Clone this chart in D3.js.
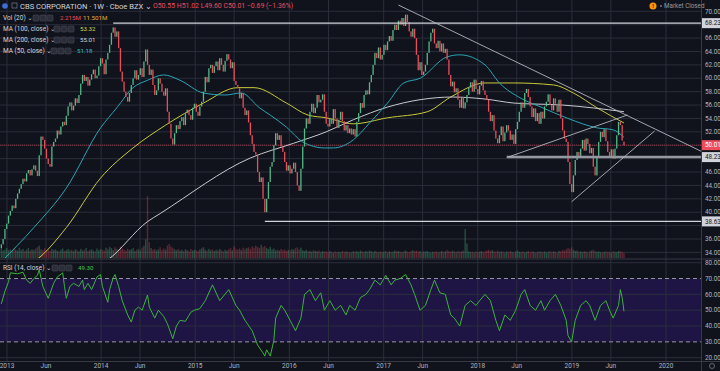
<!DOCTYPE html>
<html>
<head>
<meta charset="utf-8">
<script src="https://cdnjs.cloudflare.com/ajax/libs/d3/7.8.5/d3.min.js"></script>
<style>
  html, body { margin: 0; padding: 0; background: #10131c; }
  svg { display: block; font-family: Roboto, "DejaVu Sans", sans-serif; }
</style>
</head>
<body>
<svg id="chart" width="720" height="371"></svg>
<script>
// weekly candles, first week starts 2012-12-10
const firstWeek = new Date(2012, 11, 10);
const firstOpen = 34.6;
const lastOpen = 50.55;

const closes = [
  35.2, 36.0, 37.5, 38.3,
  39.5, 40.2, 41.0, 40.6, 42.0, 42.8, 43.5,
  44.2, 45.0, 44.6, 45.8, 46.3, 45.5, 46.4, 47.0, 46.2, 45.4,
  48.5, 51.3, 50.8,
  49.5, 48.0, 47.2, 46.8,
  49.8, 50.5, 51.0, 52.2, 51.6, 52.8, 53.5, 53.0, 54.4,
  55.8, 56.4, 55.2, 55.9, 57.0, 56.3, 57.5,
  59.2, 60.5, 59.6, 60.2, 58.9, 59.8, 60.6, 61.3, 60.0, 60.4,
  61.8, 63.0, 62.2, 60.6, 62.8, 63.8,
  65.0, 66.8, 67.6, 66.2, 67.0,
  64.5, 61.0, 59.5, 58.0, 57.2, 56.5, 57.8, 59.0,
  60.0, 61.2, 59.8, 60.5, 61.5, 60.2, 62.5, 64.3,
  62.0, 60.5, 61.3, 59.0, 57.5, 58.2, 60.0, 59.2, 58.0, 57.4, 58.5,
  55.0, 53.2, 51.0, 50.1,
  51.8, 53.0, 52.4, 53.6, 54.2, 53.0, 54.8, 55.3, 54.5, 53.8, 55.6, 56.2, 55.0, 54.4, 55.8, 56.5,
  58.0, 60.2, 59.4, 61.5, 62.0,
  60.8, 61.8, 62.5, 61.2, 63.0, 62.0, 61.0, 62.6, 63.6, 62.8, 61.5, 62.4, 59.6, 59.0,
  58.5, 57.0, 57.8, 55.6, 54.5, 55.2, 53.4,
  51.5, 50.2, 49.0, 48.6,
  46.0, 44.5, 45.2, 42.0, 40.0,
  42.0, 44.5, 46.8, 47.5, 50.0, 51.8, 50.8, 51.5, 49.8,
  49.0, 47.5, 46.2, 47.0, 45.8, 46.5, 47.4, 46.0, 44.0, 43.2,
  46.5, 49.8, 52.5, 54.0,
  53.2, 55.0, 56.2, 54.8, 55.6, 57.5, 56.4,
  56.8, 57.6, 55.0, 53.2, 52.8, 54.0,
  53.2, 55.4, 54.0, 52.6, 53.8, 55.0, 53.6, 52.2, 53.0, 51.8, 52.5, 51.6, 52.4, 51.3,
  53.5, 54.8, 56.3, 55.6, 57.5, 58.2, 57.6, 59.4, 60.5,
  62.0, 63.8, 63.0, 64.6, 62.8, 63.5, 65.0, 64.2, 65.5, 66.3, 65.6, 67.2, 68.0,
  67.2, 68.6, 68.0, 69.0, 67.8, 69.5, 68.4,
  67.0, 66.2, 67.4, 66.0,
  63.5, 61.2, 62.4, 60.5, 61.0, 62.0,
  63.8, 65.5, 66.8, 67.4, 65.2,
  64.5, 65.6, 64.0, 65.2, 63.8, 64.4, 62.8,
  60.5, 58.8, 59.5, 57.9, 58.5,
  56.8, 55.6, 57.2, 55.5, 56.4,
  57.5, 58.6, 59.4, 58.0, 59.8, 58.4, 57.6, 58.9, 59.6, 58.2,
  57.5, 56.8, 55.0, 53.6, 54.5, 52.2, 51.0, 50.3,
  51.5, 52.8, 50.6, 51.9, 53.0, 52.2, 50.8, 51.6, 50.2, 52.4,
  53.5, 55.0, 56.4, 55.6, 57.8, 58.4, 57.2,
  55.8, 54.2, 55.5, 53.6, 54.8, 53.2, 55.0, 54.0, 55.8,
  56.5, 57.6, 56.0, 55.2, 57.0, 56.2, 55.0, 56.8,
  54.0, 52.2, 51.0, 50.5,
  47.5, 44.2, 43.0,
  45.5, 47.8, 49.0, 48.2,
  49.5, 50.8, 49.2, 51.0, 50.2, 48.8, 49.6,
  46.8, 45.5,
  48.4, 50.5, 52.0, 51.2, 52.4, 50.6,
  49.0, 48.2, 49.4, 48.0, 49.5,
  51.5, 53.5, 53.0,
  50.70, 50.01
];

// weekly volume, millions
const volumes = [
  22,18,20,24,19,21,17,23,20,18,25,19,22,17,20,24,18,21,19,23,
  26,30,21,19,24,18,20,17,22,19,21,18,16,20,23,17,19,22,18,20,
  17,21,19,16,22,18,20,24,17,19,21,18,16,23,19,22,20,18,25,21,
  27,24,20,26,22,19,28,23,20,18,22,19,21,24,17,20,22,18,25,30,
  45,150,38,24,20,22,18,21,26,19,23,20,30,34,28,25,21,19,22,18,
  20,17,21,19,16,22,18,20,19,17,21,23,26,20,18,22,19,21,17,20,
  18,22,19,16,20,18,21,24,19,28,22,20,23,19,25,21,24,26,22,28,
  25,30,27,24,32,26,29,24,22,27,21,23,19,20,18,22,19,21,17,20,
  18,22,20,24,26,21,25,19,17,20,16,18,15,19,17,16,18,14,17,15,
  16,14,17,15,13,16,14,15,13,17,14,16,15,13,14,16,15,17,14,18,
  16,14,17,15,18,16,14,17,15,13,16,14,15,17,13,16,14,15,18,16,
  17,15,14,16,18,15,14,17,19,16,18,15,17,14,16,15,17,14,13,15,
  14,16,13,15,17,14,16,19,17,15,18,16,14,17,15,16,18,70,35,16,
  14,15,13,16,14,15,17,14,16,18,20,17,19,16,15,18,14,16,15,13,
  16,14,17,15,13,16,18,15,14,16,13,15,17,14,16,15,13,14,16,15,
  14,16,13,15,17,14,16,15,13,17,16,19,18,21,24,22,26,20,17,18,
  15,16,14,17,15,13,16,18,20,17,15,16,14,13,15,16,14,15,13,16,
  15,14,17,16,15,12
];

// moving averages: [week index, value]
const ma50Pts = [[0,32.6],[18,37.7],[36,43.6],[55,52.6],[64,55.6],[73,58.6],[81,59.7],[90,60.5],[99,59.7],
  [112,57.8],[124,57.5],[133,57.8],[143,55.6],[149,54.5],[158,52.7],[167,50.5],[179,49.6],[184,49.6],
  [195,50.8],[204,53.3],[214,56.3],[223,59.3],[232,60.0],[247,63.2],[254,63.5],[268,62.0],[276,59.3],
  [288,57.0],[299,55.7],[314,54.0],[330,52.6],[339,52.3],[345,51.18]];
const ma100Pts = [[10,31.5],[20,33.0],[36,37.7],[55,45.1],[73,49.6],[91,53.0],[112,56.3],[131,58.6],
  [140,58.6],[158,56.3],[170,54.5],[180,54.1],[195,53.2],[214,54.1],[236,55.0],[249,57.2],[268,59.3],
  [284,59.3],[306,59.0],[317,57.8],[330,55.6],[345,53.32]];
const ma200Pts = [[50,31.5],[59,32.9],[81,38.6],[88,39.8],[138,48.1],[162,50.3],[180,52.0],[195,53.8],
  [214,55.7],[232,56.8],[250,57.2],[268,56.9],[284,56.3],[311,56.0],[345,55.01]];

// RSI (14): [week index, value]
const rsiPts = [[0,54],[2,62],[4,68],[5,73.6],[9,73],[12,74],[14,69],[16,67],[18,70],[20,72],[21,75.6],
  [23,65],[26,57.5],[29,67],[31,71],[34,73.6],[35,65],[36,57.5],[38,65],[40,67],[43,65],[45,69],[46,63],
  [48,67],[50,63],[53,71],[55,72.5],[56,65],[59,55],[60,63],[62,70.5],[63,72.5],[65,65],[67,56],[70,47],
  [72,42.5],[74,50],[76,52],[78,50],[81,59.6],[82,52],[85,45],[87,50],[90,46],[92,41.5],[95,32],[97,40],
  [99,43.6],[102,43],[105,48.7],[107,50],[110,51],[113,56],[117,66],[121,56],[126,63],[130,53],[132,50],
  [135,43.6],[139,37],[142,28],[145,23],[146,21],[147,25],[149,21],[151,31],[152,45],[155,53],[157,50],
  [160,43.6],[163,37],[166,45],[168,60],[171,63],[174,56],[177,61],[179,50],[182,56],[185,50],[188,53],
  [191,47],[193,53],[196,50],[199,58],[202,60],[204,63],[207,69],[210,66],[213,72],[216,66],[218,69],
  [221,70],[224,72.5],[227,66],[229,60],[232,50],[235,53],[238,63],[240,69],[243,61],[246,60],[249,47],
  [251,45],[254,40],[257,53],[260,56],[263,53],[265,56],[268,60],[271,56],[274,43.6],[276,37],[279,47],
  [282,43.6],[285,50],[288,60],[290,63],[293,53],[296,50],[299,56],[301,50],[304,56],[307,60],[310,53],
  [313,43.6],[314,34],[316,30],[318,43.6],[321,53],[324,56],[326,53],[329,43.6],[332,53],[335,56],
  [337,50],[339,45],[342,53],[343,63],[344,58],[345,49.3]];

const priceTicks = [34,36,38,40,42,44,46,48,50,52,54,56,58,60,62,64,66,68,70];
const rsiTicks = [20,30,40,50,60,70,80];
const timeTicks = [
  ['2013-01-01','2013'],['2013-06-01','Jun'],['2014-01-01','2014'],['2014-06-01','Jun'],
  ['2015-01-01','2015'],['2015-06-01','Jun'],['2016-01-01','2016'],['2016-06-01','Jun'],
  ['2017-01-01','2017'],['2017-06-01','Jun'],['2018-01-01','2018'],['2018-06-01','Jun'],
  ['2019-01-01','2019'],['2019-06-01','Jun'],['2020-01-01','2020']
];

// horizontal levels: price, starting week index, style
const levels = [
  { price: 68.23, from: 62, color: '#d1d4dc', width: 1.2 },
  { price: 38.63, from: 146, color: '#d1d4dc', width: 1.2 },
  { price: 48.23, from: 280, color: '#9598a1', width: 2.5 }
];
// trend lines: [[week, price], [week, price]]
const trendLines = [
  [[220, 70.94], [388, 49.07]],
  [[281, 48.25], [347, 54.52]],
  [[316, 41.57], [362, 52.13]]
];

const bg = '#10131c';
const gridColor = '#2a2e3a';
const textColor = '#b2b5be';
const upColor = '#53b987';
const downColor = '#eb4d5c';

const plotRight = 701;
const priceBottom = 258;
const rsiTop = 260;
const rsiBottom = 361;

const svg = d3.select('#chart');
svg.append('rect').attr('width', 720).attr('height', 371).attr('fill', bg);

const x = d3.scaleTime()
  .domain([new Date(2013, 0, 1), new Date(2020, 0, 1)])
  .range([7, 666]);
const weekX = i => x(d3.timeDay.offset(firstWeek, 7 * i));
const y = d3.scaleLinear().domain([34, 70]).range([252.4, 11.3]);
const yr = d3.scaleLinear().domain([20, 80]).range([357.7, 262.7]);
const vol = d3.scaleLinear().domain([0, d3.max(volumes)]).range([0, 62]);

const defs = svg.append('defs');
defs.append('clipPath').attr('id', 'clipPrice')
  .append('rect').attr('x', 0).attr('y', 0).attr('width', plotRight).attr('height', priceBottom);
defs.append('clipPath').attr('id', 'clipRsi')
  .append('rect').attr('x', 0).attr('y', rsiTop).attr('width', plotRight).attr('height', rsiBottom - rsiTop);

// rsi band
svg.append('rect')
  .attr('x', 0).attr('width', plotRight)
  .attr('y', yr(70)).attr('height', yr(30) - yr(70))
  .attr('fill', '#1e1544');

// grid
const tickData = timeTicks.map(d => ({ date: d3.timeParse('%Y-%m-%d')(d[0]), label: d[1] }));
svg.append('g').selectAll('line').data(tickData).enter().append('line')
  .attr('x1', d => x(d.date)).attr('x2', d => x(d.date))
  .attr('y1', 0).attr('y2', rsiBottom)
  .attr('stroke', gridColor).attr('stroke-width', 1);
svg.append('g').selectAll('line').data(priceTicks).enter().append('line')
  .attr('x1', 0).attr('x2', plotRight)
  .attr('y1', d => y(d)).attr('y2', d => y(d))
  .attr('stroke', gridColor);
svg.append('g').selectAll('line').data(rsiTicks.filter(d => d !== 70 && d !== 30)).enter().append('line')
  .attr('x1', 0).attr('x2', plotRight)
  .attr('y1', d => yr(d)).attr('y2', d => yr(d))
  .attr('stroke', gridColor);
svg.append('g').selectAll('line').data([70, 30]).enter().append('line')
  .attr('x1', 0).attr('x2', plotRight)
  .attr('y1', d => yr(d)).attr('y2', d => yr(d))
  .attr('stroke', '#9598a1').attr('stroke-dasharray', '4,3');

// pane borders
svg.append('line').attr('x1', 0).attr('x2', 720).attr('y1', 259).attr('y2', 259).attr('stroke', '#363a45');
svg.append('line').attr('x1', 0).attr('x2', 720).attr('y1', rsiBottom + 0.5).attr('y2', rsiBottom + 0.5).attr('stroke', '#363a45');
svg.append('line').attr('x1', plotRight + 0.5).attr('x2', plotRight + 0.5).attr('y1', 0).attr('y2', 371).attr('stroke', '#363a45');

const price = svg.append('g').attr('clip-path', 'url(#clipPrice)');

// candles data
const bars = closes.map((c, i) => {
  const o = i === 0 ? firstOpen : (i === closes.length - 1 ? lastOpen : closes[i - 1]);
  return { i, o, c, v: volumes[i], up: c >= o };
});

// volume
price.append('g').selectAll('rect').data(bars).enter().append('rect')
  .attr('x', d => weekX(d.i) - 0.7).attr('width', 1.4)
  .attr('y', d => priceBottom - vol(d.v)).attr('height', d => vol(d.v))
  .attr('fill', d => d.up ? upColor : downColor).attr('opacity', 0.35);

// current price line
price.append('line')
  .attr('x1', 0).attr('x2', plotRight)
  .attr('y1', y(50.01)).attr('y2', y(50.01))
  .attr('stroke', downColor).attr('stroke-opacity', 0.55).attr('stroke-dasharray', '1,1');

// moving averages
const maLine = d3.line().x(d => weekX(d[0])).y(d => y(d[1])).curve(d3.curveMonotoneX);
[[ma100Pts, '#c9c93a'], [ma200Pts, '#c7c9cf'], [ma50Pts, '#2aa5b5']].forEach(([pts, col]) => {
  price.append('path').attr('d', maLine(pts)).attr('fill', 'none')
    .attr('stroke', col).attr('stroke-width', 1);
});

// candles
price.append('g').selectAll('rect').data(bars).enter().append('rect')
  .attr('x', d => weekX(d.i) - 0.65).attr('width', 1.3)
  .attr('y', d => y(Math.max(d.o, d.c)))
  .attr('height', d => Math.max(0.8, Math.abs(y(d.o) - y(d.c))))
  .attr('fill', d => d.up ? upColor : downColor);

// levels
price.append('g').selectAll('line').data(levels).enter().append('line')
  .attr('x1', d => weekX(d.from)).attr('x2', plotRight)
  .attr('y1', d => y(d.price)).attr('y2', d => y(d.price))
  .attr('stroke', d => d.color).attr('stroke-width', d => d.width);

// trend lines
price.append('g').selectAll('line').data(trendLines).enter().append('line')
  .attr('x1', d => weekX(d[0][0])).attr('y1', d => y(d[0][1]))
  .attr('x2', d => weekX(d[1][0])).attr('y2', d => y(d[1][1]))
  .attr('stroke', '#b2b5be').attr('stroke-width', 0.9);

// rsi
svg.append('path')
  .attr('clip-path', 'url(#clipRsi)')
  .attr('d', d3.line().x(d => weekX(d[0])).y(d => yr(d[1]))(rsiPts))
  .attr('fill', 'none').attr('stroke', '#3bb33b').attr('stroke-width', 1);

// axis value boxes
const boxes = [
  { v: 68.23, fill: '#d1d4dc', text: '#131722' },
  { v: 50.01, fill: '#eb4d5c', text: '#ffffff' },
  { v: 48.23, fill: '#d1d4dc', text: '#131722' },
  { v: 38.63, fill: '#d1d4dc', text: '#131722' }
];

// price axis (labels hidden under a value box are left out)
const axisG = svg.append('g').attr('font-size', 6.3).attr('fill', textColor);
axisG.selectAll('text.p')
  .data(priceTicks.filter(t => !boxes.some(b => Math.abs(y(t) - y(b.v)) < 8)))
  .enter().append('text')
  .attr('x', 705).attr('y', d => y(d)).attr('dy', '0.35em').text(d => d.toFixed(2));
axisG.selectAll('text.r').data(rsiTicks).enter().append('text')
  .attr('x', 705).attr('y', d => yr(d)).attr('dy', '0.35em').text(d => d.toFixed(2));

const bx = svg.append('g').selectAll('g').data(boxes).enter().append('g');
bx.append('rect').attr('x', 702).attr('width', 18).attr('y', d => y(d.v) - 5).attr('height', 10)
  .attr('fill', d => d.fill);
bx.append('text').attr('x', 705).attr('y', d => y(d.v)).attr('dy', '0.35em')
  .attr('font-size', 6.3).attr('fill', d => d.text).text(d => d.v.toFixed(2));

// time axis
svg.append('g').selectAll('text').data(tickData).enter().append('text')
  .attr('x', d => x(d.date)).attr('y', 368).attr('text-anchor', 'middle')
  .attr('font-size', 6.5).attr('fill', textColor).text(d => d.label);

// legend
const legend = svg.append('g').attr('fill', '#d1d4dc');
legend.append('circle').attr('cx', 5).attr('cy', 6).attr('r', 2.8).attr('fill', '#3d6fd6');
legend.append('rect').attr('x', 12).attr('y', 3).attr('width', 5).attr('height', 5)
  .attr('fill', 'none').attr('stroke', '#787b86').attr('stroke-width', 0.7);
legend.append('text').attr('x', 20).attr('y', 6).attr('dy', '0.35em').attr('font-size', 7.6)
  .text('CBS CORPORATION · 1W · Cboe BZX ⌄');
legend.append('text').attr('x', 153).attr('y', 6).attr('dy', '0.35em').attr('fill', '#eb4d5c')
  .attr('font-size', 6.9)
  .text('O50.55  H51.02  L49.60  C50.01  −0.69 (−1.36%)');

const rows = [
  { y: 18, label: 'Vol (20) ⌄', ix: 33, vals: [['2.215M', '#eb4d5c', 60], ['11.501M', '#f0a73a', 83]] },
  { y: 29, label: 'MA (100, close) ⌄', ix: 54, vals: [['53.32', '#d6d64a', 80]] },
  { y: 40, label: 'MA (200, close) ⌄', ix: 54, vals: [['55.01', '#d1d4dc', 80]] },
  { y: 51, label: 'MA (50, close) ⌄', ix: 51, vals: [['51.18', '#2cb8cc', 77]] },
  { y: 268, label: 'RSI (14, close) ⌄', ix: 52, vals: [['49.30', '#45c845', 78]] }
];
rows.forEach(r => {
  const g = legend.append('g');
  g.append('text').attr('x', 3).attr('y', r.y).attr('dy', '0.35em').attr('font-size', 6.5).text(r.label);
  [0, 1, 2].forEach(k => {
    g.append('rect').attr('x', r.ix + k * 7).attr('y', r.y - 3).attr('width', 6).attr('height', 6)
      .attr('rx', 1).attr('fill', '#2a2e39').attr('stroke', '#50535e').attr('stroke-width', 0.5);
  });
  r.vals.forEach(v => {
    g.append('text').attr('x', v[2]).attr('y', r.y).attr('dy', '0.35em').attr('font-size', 6.2)
      .attr('fill', v[1]).text(v[0]);
  });
});

// market status
svg.append('circle').attr('cx', 653).attr('cy', 6).attr('r', 3.5).attr('fill', '#ff9800');
svg.append('text').attr('x', 653).attr('y', 6).attr('dy', '0.35em').attr('text-anchor', 'middle')
  .attr('font-size', 5.5).attr('font-weight', 'bold').attr('fill', '#131722').text('!');
svg.append('circle').attr('cx', 661).attr('cy', 6).attr('r', 1).attr('fill', '#787b86');
svg.append('text').attr('x', 664).attr('y', 6).attr('dy', '0.35em')
  .attr('font-size', 6.3).attr('fill', '#9598a1').text('Market Closed');

// corner settings icon
svg.append('circle').attr('cx', 712).attr('cy', 366).attr('r', 2.5)
  .attr('fill', 'none').attr('stroke', '#787b86').attr('stroke-width', 0.8);
</script>
</body>
</html>
